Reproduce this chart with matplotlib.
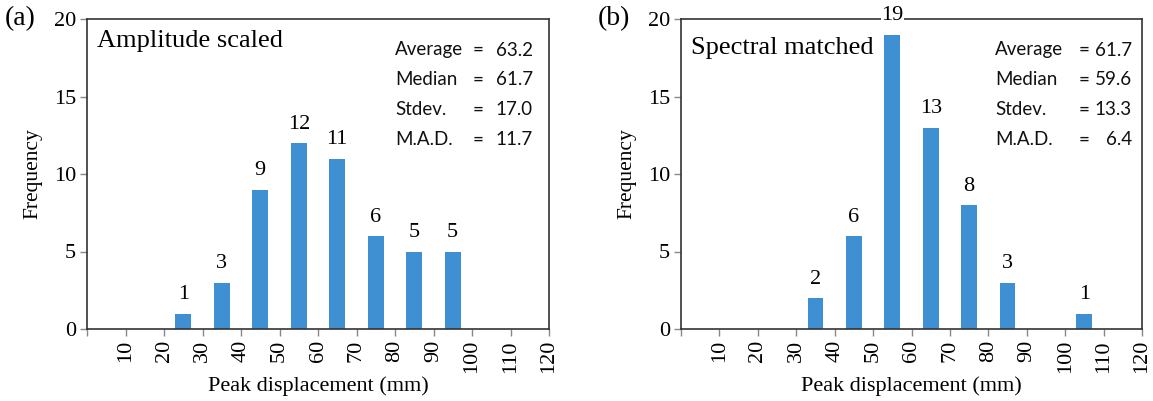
import matplotlib
import matplotlib.pyplot as plt
import numpy as np

matplotlib.use("Agg")

# histogram bins (mm) and counts for both record sets
bin_centers = [5, 15, 25, 35, 45, 55, 65, 75, 85, 95, 105, 115]
counts_scaled = [0, 0, 1, 3, 9, 12, 11, 6, 5, 5, 0, 0]
counts_matched = [0, 0, 0, 2, 6, 19, 13, 8, 3, 0, 1, 0]

x_ticks = [0, 10, 20, 30, 40, 50, 60, 70, 80, 90, 100, 110, 120]
x_tick_labels = [""] + [str(t) for t in x_ticks[1:]]

stat_names = ["Average", "Median", "Stdev.", "M.A.D."]
stats_scaled = ["63.2", "61.7", "17.0", "11.7"]
stats_matched = ["61.7", "59.6", "13.3", "6.4"]

BAR_COLOR = "#3f8fd3"
SERIF = "Liberation Serif"
SANS = "Lato"

fig = plt.figure(figsize=(11.53, 4.01), dpi=100)
ax_a = fig.add_axes([87 / 1153, 72 / 401, 462 / 1153, 310 / 401])
ax_b = fig.add_axes([681 / 1153, 72 / 401, 461 / 1153, 310 / 401])


def draw_panel(ax, counts, title, title_y, stats, cols):
    ax.bar(bin_centers, counts, width=4.1, color=BAR_COLOR, zorder=2)
    for xc, c in zip(bin_centers, counts):
        if c > 0:
            ax.text(xc, c + 1.2, str(c), ha="center", va="center",
                    family=SERIF, fontsize=16, zorder=3,
                    bbox=dict(facecolor="white", edgecolor="none", pad=0.3))
    ax.set_xlim(0, 120)
    ax.set_ylim(0, 20)
    ax.set_xticks(x_ticks)
    ax.set_xticklabels(x_tick_labels, rotation=90, family=SERIF, fontsize=16)
    ax.set_yticks([0, 5, 10, 15, 20])
    ax.set_yticklabels(["0", "5", "10", "15", "20"], family=SERIF, fontsize=16)
    ax.tick_params(direction="out", length=5, width=1, color="#888888", pad=3)
    for sp in ax.spines.values():
        sp.set_color("#333333")
        sp.set_linewidth(1.2)
    ax.set_xlabel("Peak displacement (mm)", family=SERIF, fontsize=16, labelpad=2)
    ax.set_ylabel("Frequency", family=SERIF, fontsize=15.5, labelpad=8)
    ax.text(0.022, title_y, title, transform=ax.get_yaxis_transform(),
            ha="left", va="center", family=SERIF, fontsize=19)
    x_name, x_eq, x_val = cols
    for i, (name, val) in enumerate(zip(stat_names, stats)):
        y = 18.0 - 1.93 * i
        ax.text(x_name, y, name, transform=ax.get_yaxis_transform(),
                ha="left", va="center", family=SANS, fontsize=13.5, color="#111111")
        ax.text(x_eq, y, "=", transform=ax.get_yaxis_transform(),
                ha="left", va="center", family=SANS, fontsize=13.5, color="#111111")
        ax.text(x_val, y, val, transform=ax.get_yaxis_transform(),
                ha="right", va="center", family=SANS, fontsize=13.5, color="#111111")


draw_panel(ax_a, counts_scaled, "Amplitude scaled", 18.6, stats_scaled,
           (0.667, 0.835, 0.965))
draw_panel(ax_b, counts_matched, "Spectral matched", 18.1, stats_matched,
           (0.681, 0.862, 0.978))

fig.text(20 / 1153, 1 - 19 / 401, "(a)", ha="center", va="center",
         family=SERIF, fontsize=20)
fig.text(614 / 1153, 1 - 19 / 401, "(b)", ha="center", va="center",
         family=SERIF, fontsize=20)

fig.savefig("out.png", dpi=100)
